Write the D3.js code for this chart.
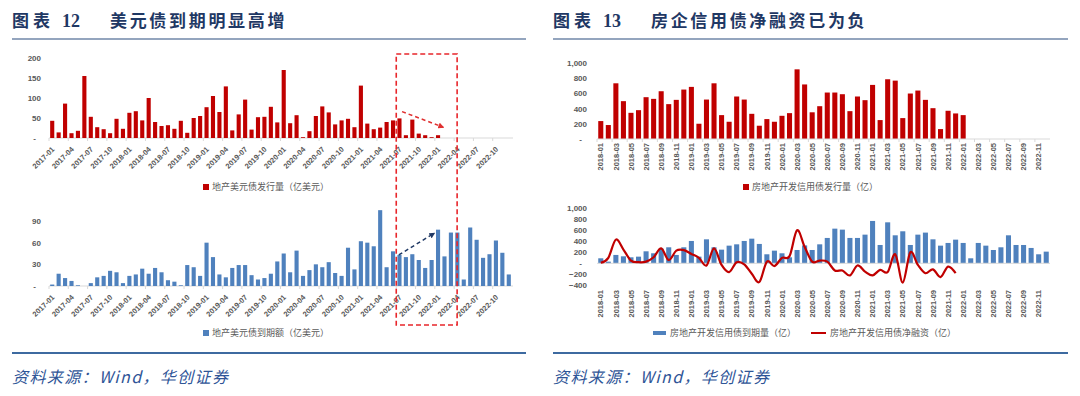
<!DOCTYPE html>
<html><head><meta charset="utf-8">
<script src="https://cdn.jsdelivr.net/npm/d3@7"></script>
<style>body{margin:0;background:#fff}svg{display:block}</style>
</head><body><svg id="c" width="1080" height="396"></svg>
<script>
// ---------- DATA ----------
function monthRange(y0, m0, n) {
  return d3.range(n).map(i => { const t = m0 - 1 + i; return `${y0 + Math.floor(t / 12)}-${String(t % 12 + 1).padStart(2, "0")}`; });
}
const usdMonths = monthRange(2017, 1, 72);
const usdTickLabels = ["2017-01","2017-04","2017-07","2017-10","2018-01","2018-04","2018-07","2018-10","2019-01","2019-04","2019-07","2019-10","2020-01","2020-04","2020-07","2020-10","2021-01","2021-04","2021-07","2021-10","2022-01","2022-04","2022-07","2022-10"];
const usdIssuance = [43,14,86,12,18,155,53,27,22,12,48,23,63,67,44,100,40,30,32,23,43,13,50,55,77,105,65,129,19,59,96,21,52,
  53,78,39,170,37,57,2,17,55,79,64,34,44,48,27,131,36,22,26,40,44,49,7,46,11,7,2,7,
  null,null,null,null,null,null,null,null,null,null,null];
const usdMaturity = [2,17,11,7,1,0,4,12,14,21,19,4,14,16,24,17,25,19,8,6,1,29,26,14,60,40,16,12,25,29,29,15,9,
  11,17,34,45,19,49,14,22,30,26,33,18,14,53,23,62,60,55,105,26,48,43,40,44,36,25,36,78,41,74,74,9,81,64,39,44,63,46,16];
const usdTopTicks = [0,50,100,150,200];
const usdBotTicks = [0,30,60,90];

const creditMonths = monthRange(2018, 1, 60);
const creditTickLabels = ["2018-01","2018-03","2018-05","2018-07","2018-09","2018-11","2019-01","2019-03","2019-05","2019-07","2019-09","2019-11","2020-01","2020-03","2020-05","2020-07","2020-09","2020-11","2021-01","2021-03","2021-05","2021-07","2021-09","2021-11","2022-01","2022-03","2022-05","2022-07","2022-09","2022-11"];
const creditIssuance = [235,183,730,496,343,378,548,526,626,457,513,648,683,200,517,730,313,226,557,517,330,174,261,226,304,339,913,715,350,
  430,609,609,587,365,557,509,709,248,783,765,274,596,635,513,404,130,370,335,313,
  null,null,null,null,null,null,null,null,null,null,null];
const creditMaturity = [91,30,152,127,109,121,218,182,267,291,152,291,406,121,436,291,248,321,345,406,448,352,164,230,182,109,242,325,242,
  345,461,630,612,461,461,521,770,333,745,509,582,333,521,558,436,321,370,430,370,91,370,321,242,291,509,333,333,279,164,212];
const creditNet = [10,100,430,250,50,20,30,110,270,60,230,240,170,100,-40,270,-30,-160,20,-20,-190,-340,30,-50,100,130,600,300,30,50,
  30,-130,-130,-220,-40,-150,-220,-120,-160,165,-350,200,-30,-180,-110,-250,-60,-180];
const creditTopTicks = [0,200,400,600,800,1000];
const creditBotTicks = [-400,-200,0,200,400,600,800,1000];

// ---------- STYLE ----------
const RED = "#c00000", BLUE = "#4f81bd", NAVY = "#1f3864", GRAY = "#595959", AX = "#d9d9d9";
const CJK = "'Noto Sans CJK SC','Noto Sans',sans-serif";
const svg = d3.select("#c");
const fmtY = d => d === 0 ? "-" : d3.format(",")(d);

// ---------- PANEL FRAMES ----------
function frame(x0, x1, num, body) {
  const g = svg.append("g");
  g.append("text").attr("x", x0).attr("y", 27).attr("font-family", CJK).attr("font-weight", 700)
    .attr("font-size", 17).attr("fill", NAVY).attr("textLength", 38).text("图表");
  g.append("text").attr("x", x0 + 50).attr("y", 27).attr("font-family", "'Liberation Serif',serif").attr("font-weight", 700)
    .attr("font-size", 18).attr("fill", NAVY).text(num);
  g.append("text").attr("x", x0 + 98).attr("y", 27).attr("font-family", CJK).attr("font-weight", 700)
    .attr("font-size", 17).attr("fill", NAVY).attr("textLength", body.length * 19.6 - 2).text(body);
  g.append("line").attr("x1", x0).attr("x2", x1).attr("y1", 39).attr("y2", 39).attr("stroke", "#2b4c7e").attr("stroke-width", 1.2);
  g.append("line").attr("x1", x0).attr("x2", x1).attr("y1", 353).attr("y2", 353).attr("stroke", "#3d6aa0").attr("stroke-width", 2);
  g.append("text").attr("x", x0).attr("y", 383).attr("font-family", CJK).attr("font-style", "italic")
    .attr("font-size", 16).attr("fill", "#2f5597").attr("textLength", 216).text("资料来源：Wind，华创证券");
}
frame(12, 526, "12", "美元债到期明显高增");
frame(553, 1068, "13", "房企信用债净融资已为负");

// ---------- helpers ----------
function yAxis(scale, ticks, xRight) {
  const g = svg.append("g").attr("transform", `translate(${xRight},0)`)
    .call(d3.axisLeft(scale).tickValues(ticks).tickSize(0).tickPadding(0).tickFormat(fmtY));
  g.select(".domain").remove();
  g.selectAll("text").attr("font-family", "'Liberation Sans',Arial,sans-serif").attr("font-size", 8)
    .attr("font-weight", 700).attr("fill", GRAY)
    .attr("dx", d => d === 0 ? -5 : 0);
  return g;
}
function legendSquare(x, y, color, label) {
  svg.append("rect").attr("x", x).attr("y", y - 3).attr("width", 6).attr("height", 6).attr("fill", color);
  svg.append("text").attr("x", x + 9).attr("y", y).attr("dy", "0.35em").attr("font-family", CJK)
    .attr("font-size", 9).attr("fill", GRAY).text(label);
}

// ---------- LEFT: USD bonds ----------
const xL = d3.scaleBand().domain(usdMonths).range([49, 512]).paddingInner(0.36).paddingOuter(0.18);
const stepL = (512 - 49) / usdMonths.length;
const xLc = i => 49 + stepL * (i + 0.5);
const yLT = d3.scaleLinear().domain([0, 200]).range([138, 58]);
const yLB = d3.scaleLinear().domain([0, 90]).range([286, 221]);

function usdChart(vals, y, color, ticks, base) {
  yAxis(y, ticks, 41);
  svg.append("line").attr("x1", 49).attr("x2", 513).attr("y1", base).attr("y2", base).attr("stroke", AX);
  svg.append("g").selectAll("rect").data(vals.map((v, i) => ({ v, m: usdMonths[i] })).filter(d => d.v != null))
    .join("rect").attr("x", d => xL(d.m)).attr("width", xL.bandwidth())
    .attr("y", d => y(d.v)).attr("height", d => y(0) - y(d.v)).attr("fill", color);
  const ax = svg.append("g").attr("transform", `translate(0,${base})`)
    .call(d3.axisBottom(xL).tickValues(usdTickLabels).tickSize(0));
  ax.select(".domain").remove();
  ax.selectAll("text").attr("text-anchor", "end").attr("x", 0).attr("y", 0).attr("dy", "0.35em")
    .attr("transform", "translate(1,10) rotate(-45)")
    .attr("font-family", "'Liberation Sans',Arial,sans-serif").attr("font-size", 7.5).attr("font-weight", 700).attr("fill", GRAY);
  // small tick marks at group boundaries
  svg.append("g").selectAll("line").data(usdTickLabels).join("line")
    .attr("x1", d => xL(d) - (xL.step() - xL.bandwidth()) / 2).attr("x2", d => xL(d) - (xL.step() - xL.bandwidth()) / 2)
    .attr("y1", base).attr("y2", base + 3).attr("stroke", AX);
}
usdChart(usdIssuance, yLT, RED, usdTopTicks, 138);
usdChart(usdMaturity, yLB, BLUE, usdBotTicks, 286);
legendSquare(203, 187, RED, "地产美元债发行量（亿美元）");
legendSquare(203, 333, BLUE, "地产美元债到期额（亿美元）");

// annotation: dashed box and trend arrows
const defs = svg.append("defs");
function arrowHead(id, color) {
  defs.append("marker").attr("id", id).attr("viewBox", "0 0 10 10").attr("refX", 8).attr("refY", 5)
    .attr("markerWidth", 4).attr("markerHeight", 4).attr("orient", "auto")
    .append("path").attr("d", "M0,0L10,5L0,10z").attr("fill", color);
}
arrowHead("ar", "#e03030"); arrowHead("an", NAVY);
const boxX0 = xL("2021-07") - (xL.step() - xL.bandwidth()) / 2;
const boxX1 = xL("2022-04") - (xL.step() - xL.bandwidth()) / 2 + 3;
svg.append("rect").attr("x", boxX0).attr("y", yLT(210)).attr("width", boxX1 - boxX0).attr("height", yLB(-54) - yLT(210))
  .attr("fill", "none").attr("stroke", "#e8262b").attr("stroke-width", 1.6).attr("stroke-dasharray", "5,3");
svg.append("line").attr("x1", xLc(54.4)).attr("y1", yLT(66)).attr("x2", xLc(60.8)).attr("y2", yLT(27))
  .attr("stroke", "#e03030").attr("stroke-width", 1.5).attr("stroke-dasharray", "4,3").attr("marker-end", "url(#ar)");
svg.append("line").attr("x1", xLc(53.9)).attr("y1", yLB(43)).attr("x2", xLc(59.4)).attr("y2", yLB(73))
  .attr("stroke", NAVY).attr("stroke-width", 1.5).attr("stroke-dasharray", "4,3").attr("marker-end", "url(#an)");

// ---------- RIGHT: credit bonds ----------
const xR = d3.scaleBand().domain(creditMonths).range([597, 1050]).paddingInner(0.33).paddingOuter(0.165);
const stepR = (1050 - 597) / creditMonths.length;
const xRc = i => 597 + stepR * (i + 0.5);
const yRT = d3.scaleLinear().domain([0, 1000]).range([139, 62.7]);
const yRB = d3.scaleLinear().domain([-400, 1000]).range([285.3, 208.3]);

function creditXAxis(yPos, zeroY) {
  svg.append("line").attr("x1", 597).attr("x2", 1050).attr("y1", zeroY).attr("y2", zeroY).attr("stroke", AX);
  const ax = svg.append("g").attr("transform", `translate(0,${yPos})`)
    .call(d3.axisBottom(xR).tickValues(creditTickLabels).tickSize(0));
  ax.select(".domain").remove();
  ax.selectAll("text").attr("text-anchor", "end").attr("x", 0).attr("y", 0).attr("dy", "0.35em")
    .attr("transform", "translate(0,4) rotate(-90)")
    .attr("font-family", "'Liberation Sans',Arial,sans-serif").attr("font-size", 7.5).attr("font-weight", 700).attr("fill", GRAY);
}
// top: issuance
yAxis(yRT, creditTopTicks, 587);
svg.append("g").selectAll("rect").data(creditIssuance.map((v, i) => ({ v, m: creditMonths[i] })).filter(d => d.v != null))
  .join("rect").attr("x", d => xR(d.m)).attr("width", xR.bandwidth())
  .attr("y", d => yRT(d.v)).attr("height", d => yRT(0) - yRT(d.v)).attr("fill", RED);
creditXAxis(139, 139);
svg.append("g").selectAll("line").data(creditTickLabels).join("line")
  .attr("x1", d => xR(d) - (xR.step() - xR.bandwidth()) / 2).attr("x2", d => xR(d) - (xR.step() - xR.bandwidth()) / 2)
  .attr("y1", 139).attr("y2", 142).attr("stroke", AX);
legendSquare(743, 187, RED, "房地产开发信用债发行量（亿）");

// bottom: maturity + net financing
yAxis(yRB, creditBotTicks, 587);
svg.append("g").selectAll("rect").data(creditMaturity.map((v, i) => ({ v, m: creditMonths[i] })))
  .join("rect").attr("x", d => xR(d.m)).attr("width", xR.bandwidth())
  .attr("y", d => yRB(Math.max(0, d.v))).attr("height", d => Math.abs(yRB(0) - yRB(d.v))).attr("fill", BLUE);
creditXAxis(286, yRB(0));
const line = d3.line().x((d, i) => xRc(i)).y(d => yRB(d)).curve(d3.curveCardinal.tension(0));
svg.append("path").attr("d", line(creditNet)).attr("fill", "none").attr("stroke", RED).attr("stroke-width", 2.2);

// legend bottom-right
svg.append("rect").attr("x", 653).attr("y", 331).attr("width", 13).attr("height", 4).attr("fill", BLUE);
svg.append("text").attr("x", 670).attr("y", 333).attr("dy", "0.35em").attr("font-family", CJK).attr("font-size", 9).attr("fill", GRAY).text("房地产开发信用债到期量（亿）");
svg.append("line").attr("x1", 811).attr("x2", 826).attr("y1", 333).attr("y2", 333).attr("stroke", RED).attr("stroke-width", 2);
svg.append("text").attr("x", 830).attr("y", 333).attr("dy", "0.35em").attr("font-family", CJK).attr("font-size", 9).attr("fill", GRAY).text("房地产开发信用债净融资（亿）");
</script></body></html>
